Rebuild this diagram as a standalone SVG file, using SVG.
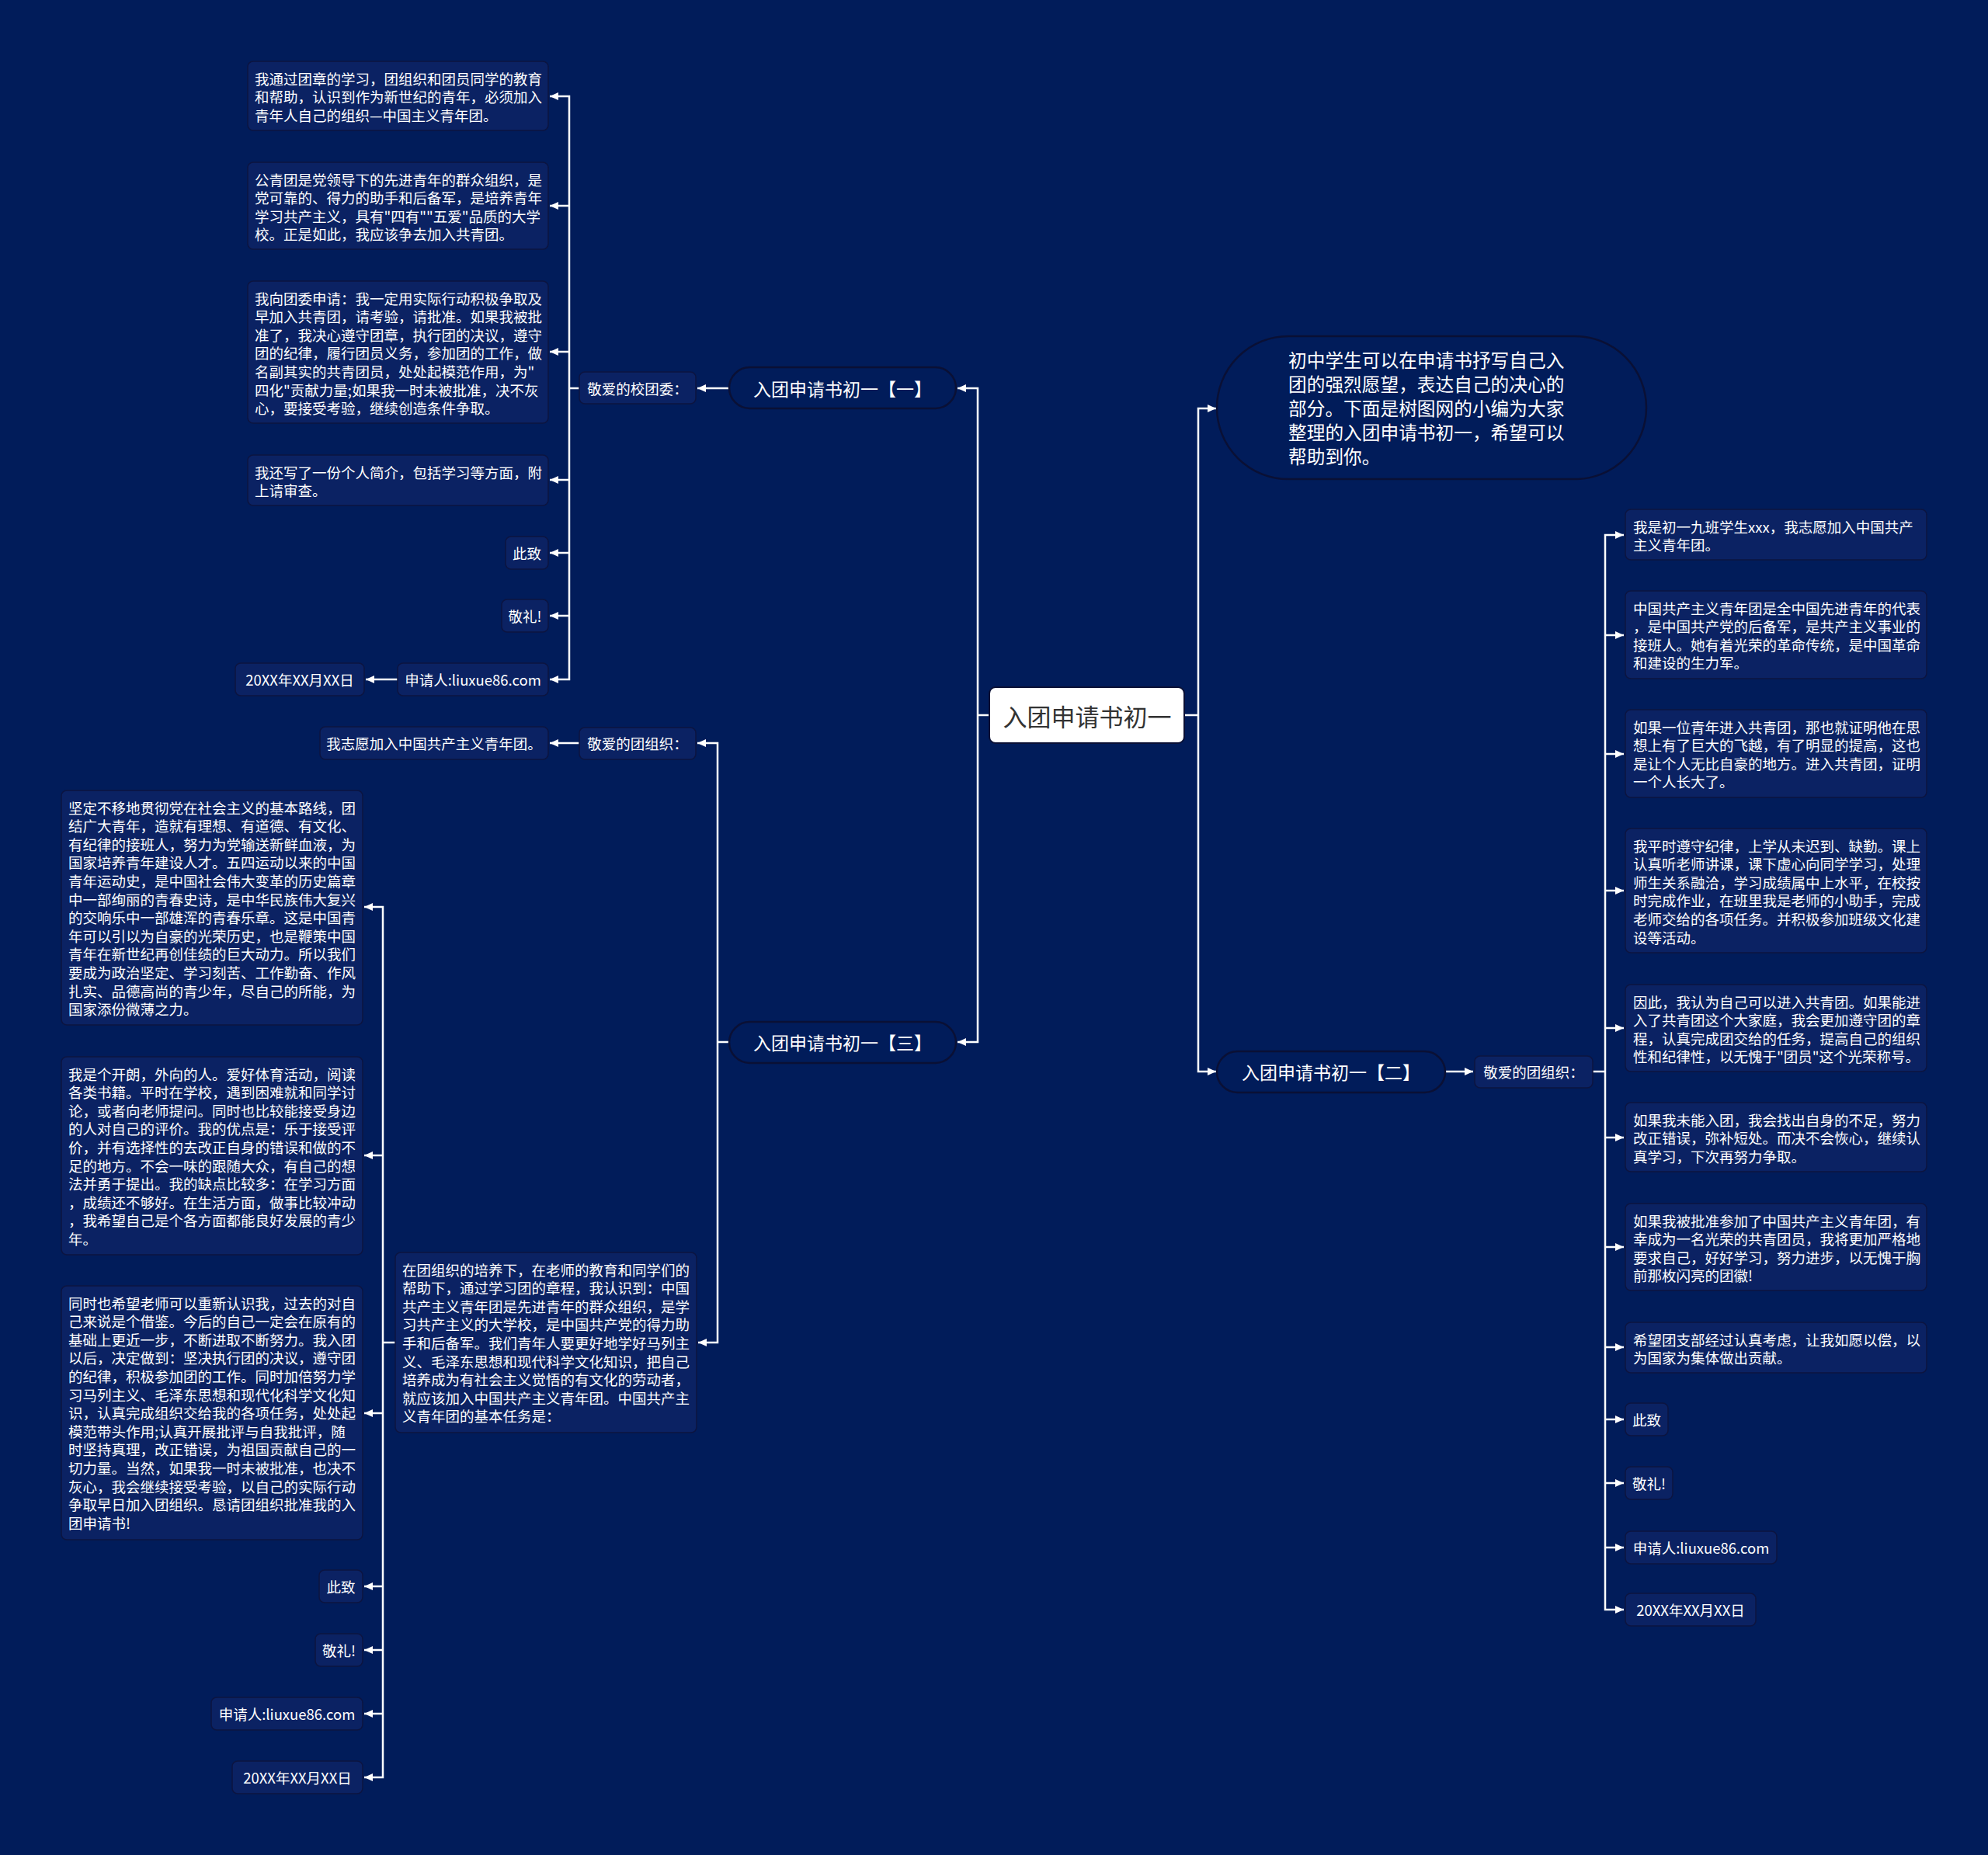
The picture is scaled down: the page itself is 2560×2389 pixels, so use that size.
<svg xmlns="http://www.w3.org/2000/svg" width="2560" height="2389" viewBox="0 0 2560 2389">
<style>
.bg{fill:#011c5a}
.box{fill:#0b2263;stroke:#0c1440;stroke-width:1.5}
.pill{fill:#011c5a;stroke:#0a1035;stroke-width:2.5}
.root{fill:#ffffff;stroke:#0a1035;stroke-width:2}
.t{font-family:"Noto Sans CJK SC","Microsoft YaHei",sans-serif;font-size:18.5px;fill:#ffffff;dominant-baseline:central}
.c{text-anchor:middle}
.tp{font-family:"Noto Sans CJK SC",sans-serif;font-size:23px;fill:#ffffff;dominant-baseline:central;text-anchor:middle}
.ti{font-family:"Noto Sans CJK SC",sans-serif;font-size:23.7px;fill:#ffffff;dominant-baseline:central}
.tr{font-family:"Noto Sans CJK SC",sans-serif;font-size:31px;fill:#333333;dominant-baseline:central;text-anchor:middle}
.ln{fill:none;stroke:#ffffff;stroke-width:2.5;marker-end:url(#ah)}
.lnn{fill:none;stroke:#ffffff;stroke-width:2.5}
</style>
<defs>
<marker id="ah" markerUnits="userSpaceOnUse" markerWidth="12" markerHeight="10" refX="11" refY="5" orient="auto">
<path d="M0,0 L11,5 L0,10 z" fill="#ffffff"/>
</marker>
</defs>
<rect class="bg" x="0" y="0" width="2560" height="2389"/>

<g id="connectors">
<path class="lnn" d="M1525 921 H1543"/>
<path class="ln" d="M1543 921 V526 H1566"/>
<path class="ln" d="M1543 921 V1380 H1566"/>
<path class="lnn" d="M1273 921 H1259"/>
<path class="ln" d="M1259 921 V500 H1233"/>
<path class="ln" d="M1259 921 V1342 H1233"/>
<path class="ln" d="M939 500 H898"/>
<path class="lnn" d="M746 500 H733"/>
<path class="ln" d="M733 500 V124 H708"/>
<path class="ln" d="M733 265 H708"/>
<path class="ln" d="M733 453 H708"/>
<path class="ln" d="M733 500 V875 H708"/>
<path class="ln" d="M733 618 H708"/>
<path class="ln" d="M733 712 H708"/>
<path class="ln" d="M733 793 H708"/>
<path class="ln" d="M512 875 H471"/>
<path class="lnn" d="M939 1342 H924"/>
<path class="ln" d="M924 1342 V957 H898"/>
<path class="ln" d="M924 1342 V1729 H899"/>
<path class="ln" d="M746 957 H708"/>
<path class="lnn" d="M509 1729 H493"/>
<path class="ln" d="M493 1729 V1168 H469"/>
<path class="ln" d="M493 1488 H469"/>
<path class="ln" d="M493 1729 V2289 H469"/>
<path class="ln" d="M493 1820 H469"/>
<path class="ln" d="M493 2043 H469"/>
<path class="ln" d="M493 2125 H469"/>
<path class="ln" d="M493 2207 H469"/>
<path class="ln" d="M1861 1380 H1897"/>
<path class="lnn" d="M2051 1380 H2067"/>
<path class="ln" d="M2067 1380 V689 H2091"/>
<path class="ln" d="M2067 818 H2091"/>
<path class="ln" d="M2067 971 H2091"/>
<path class="ln" d="M2067 1147 H2091"/>
<path class="ln" d="M2067 1324 H2091"/>
<path class="ln" d="M2067 1380 V2073 H2091"/>
<path class="ln" d="M2067 1465 H2091"/>
<path class="ln" d="M2067 1606 H2091"/>
<path class="ln" d="M2067 1735 H2091"/>
<path class="ln" d="M2067 1828 H2091"/>
<path class="ln" d="M2067 1910 H2091"/>
<path class="ln" d="M2067 1993 H2091"/>
</g>

<g id="root">
<rect class="root" x="1274" y="885" width="251" height="72" rx="8"/>
<text class="tr" x="1400" y="921">入团申请书初一</text>
</g>

<g id="intro">
<rect class="pill" x="1567" y="433" width="553" height="184" rx="92"/>
<text class="ti"><tspan x="1659" y="463">初中学生可以在申请书抒写自己入</tspan><tspan x="1659" y="494">团的强烈愿望，表达自己的决心的</tspan><tspan x="1659" y="525">部分。下面是树图网的小编为大家</tspan><tspan x="1659" y="556">整理的入团申请书初一，希望可以</tspan><tspan x="1659" y="587">帮助到你。</tspan></text>
</g>

<g id="part1">
<rect class="pill" x="939" y="473" width="292" height="53" rx="26.5"/>
<text class="tp" x="1085" y="500">入团申请书初一【一】</text>
</g>
<g id="part1-label">
<rect class="box" x="746" y="479" width="150" height="41" rx="7"/>
<text class="t c" x="821" y="500">敬爱的校团委：</text>
</g>
<g id="p1-a">
<rect class="box" x="319" y="79" width="387" height="89" rx="7"/>
<text class="t"><tspan x="328" y="100.5">我通过团章的学习，团组织和团员同学的教育</tspan><tspan x="328" y="124.1">和帮助，认识到作为新世纪的青年，必须加入</tspan><tspan x="328" y="147.7">青年人自己的组织—中国主义青年团。</tspan></text>
</g>
<g id="p1-b">
<rect class="box" x="319" y="209" width="387" height="112" rx="7"/>
<text class="t"><tspan x="328" y="230.5">公青团是党领导下的先进青年的群众组织，是</tspan><tspan x="328" y="254.1">党可靠的、得力的助手和后备军，是培养青年</tspan><tspan x="328" y="277.7">学习共产主义，具有"四有""五爱"品质的大学</tspan><tspan x="328" y="301.3">校。正是如此，我应该争去加入共青团。</tspan></text>
</g>
<g id="p1-c">
<rect class="box" x="319" y="362" width="387" height="183" rx="7"/>
<text class="t"><tspan x="328" y="383.5">我向团委申请：我一定用实际行动积极争取及</tspan><tspan x="328" y="407.1">早加入共青团，请考验，请批准。如果我被批</tspan><tspan x="328" y="430.7">准了，我决心遵守团章，执行团的决议，遵守</tspan><tspan x="328" y="454.3">团的纪律，履行团员义务，参加团的工作，做</tspan><tspan x="328" y="477.9">名副其实的共青团员，处处起模范作用，为"</tspan><tspan x="328" y="501.5">四化"贡献力量;如果我一时未被批准，决不灰</tspan><tspan x="328" y="525.1">心，要接受考验，继续创造条件争取。</tspan></text>
</g>
<g id="p1-d">
<rect class="box" x="319" y="586" width="387" height="65" rx="7"/>
<text class="t"><tspan x="328" y="607.5">我还写了一份个人简介，包括学习等方面，附</tspan><tspan x="328" y="631.1">上请审查。</tspan></text>
</g>
<g id="p1-e">
<rect class="box" x="651" y="691" width="55" height="42" rx="7"/>
<text class="t c" x="678.5" y="712">此致</text>
</g>
<g id="p1-f">
<rect class="box" x="646" y="772" width="60" height="42" rx="7"/>
<text class="t c" x="676" y="793">敬礼!</text>
</g>
<g id="p1-g">
<rect class="box" x="512" y="854" width="194" height="42" rx="7"/>
<text class="t c" x="609" y="875">申请人:liuxue86.com</text>
</g>
<g id="p1-h">
<rect class="box" x="303" y="854" width="166" height="42" rx="7"/>
<text class="t c" x="386" y="875">20XX年XX月XX日</text>
</g>

<g id="part3">
<rect class="pill" x="939" y="1316" width="292" height="53" rx="26.5"/>
<text class="tp" x="1085" y="1342">入团申请书初一【三】</text>
</g>
<g id="part3-label">
<rect class="box" x="746" y="937" width="150" height="41" rx="7"/>
<text class="t c" x="821" y="957">敬爱的团组织：</text>
</g>
<g id="p3-a">
<rect class="box" x="412" y="936" width="294" height="42" rx="7"/>
<text class="t c" x="559" y="957">我志愿加入中国共产主义青年团。</text>
</g>
<g id="p3-b">
<rect class="box" x="509" y="1613" width="388" height="232" rx="7"/>
<text class="t"><tspan x="518" y="1634.5">在团组织的培养下，在老师的教育和同学们的</tspan><tspan x="518" y="1658.1">帮助下，通过学习团的章程，我认识到：中国</tspan><tspan x="518" y="1681.7">共产主义青年团是先进青年的群众组织，是学</tspan><tspan x="518" y="1705.3">习共产主义的大学校，是中国共产党的得力助</tspan><tspan x="518" y="1728.9">手和后备军。我们青年人要更好地学好马列主</tspan><tspan x="518" y="1752.5">义、毛泽东思想和现代科学文化知识，把自己</tspan><tspan x="518" y="1776.1">培养成为有社会主义觉悟的有文化的劳动者，</tspan><tspan x="518" y="1799.7">就应该加入中国共产主义青年团。中国共产主</tspan><tspan x="518" y="1823.3">义青年团的基本任务是：</tspan></text>
</g>
<g id="p3-c">
<rect class="box" x="79" y="1018" width="388" height="302" rx="7"/>
<text class="t"><tspan x="88" y="1039.5">坚定不移地贯彻党在社会主义的基本路线，团</tspan><tspan x="88" y="1063.1">结广大青年，造就有理想、有道德、有文化、</tspan><tspan x="88" y="1086.7">有纪律的接班人，努力为党输送新鲜血液，为</tspan><tspan x="88" y="1110.3">国家培养青年建设人才。五四运动以来的中国</tspan><tspan x="88" y="1133.9">青年运动史，是中国社会伟大变革的历史篇章</tspan><tspan x="88" y="1157.5">中一部绚丽的青春史诗，是中华民族伟大复兴</tspan><tspan x="88" y="1181.1">的交响乐中一部雄浑的青春乐章。这是中国青</tspan><tspan x="88" y="1204.7">年可以引以为自豪的光荣历史，也是鞭策中国</tspan><tspan x="88" y="1228.3">青年在新世纪再创佳绩的巨大动力。所以我们</tspan><tspan x="88" y="1251.9">要成为政治坚定、学习刻苦、工作勤奋、作风</tspan><tspan x="88" y="1275.5">扎实、品德高尚的青少年，尽自己的所能，为</tspan><tspan x="88" y="1299.1">国家添份微薄之力。</tspan></text>
</g>
<g id="p3-d">
<rect class="box" x="79" y="1361" width="388" height="255" rx="7"/>
<text class="t"><tspan x="88" y="1382.5">我是个开朗，外向的人。爱好体育活动，阅读</tspan><tspan x="88" y="1406.1">各类书籍。平时在学校，遇到困难就和同学讨</tspan><tspan x="88" y="1429.7">论，或者向老师提问。同时也比较能接受身边</tspan><tspan x="88" y="1453.3">的人对自己的评价。我的优点是：乐于接受评</tspan><tspan x="88" y="1476.9">价，并有选择性的去改正自身的错误和做的不</tspan><tspan x="88" y="1500.5">足的地方。不会一味的跟随大众，有自己的想</tspan><tspan x="88" y="1524.1">法并勇于提出。我的缺点比较多：在学习方面</tspan><tspan x="88" y="1547.7">，成绩还不够好。在生活方面，做事比较冲动</tspan><tspan x="88" y="1571.3">，我希望自己是个各方面都能良好发展的青少</tspan><tspan x="88" y="1594.9">年。</tspan></text>
</g>
<g id="p3-e">
<rect class="box" x="79" y="1656" width="388" height="327" rx="7"/>
<text class="t"><tspan x="88" y="1677.5">同时也希望老师可以重新认识我，过去的对自</tspan><tspan x="88" y="1701.1">己来说是个借鉴。今后的自己一定会在原有的</tspan><tspan x="88" y="1724.7">基础上更近一步，不断进取不断努力。我入团</tspan><tspan x="88" y="1748.3">以后，决定做到：坚决执行团的决议，遵守团</tspan><tspan x="88" y="1771.9">的纪律，积极参加团的工作。同时加倍努力学</tspan><tspan x="88" y="1795.5">习马列主义、毛泽东思想和现代化科学文化知</tspan><tspan x="88" y="1819.1">识，认真完成组织交给我的各项任务，处处起</tspan><tspan x="88" y="1842.7">模范带头作用;认真开展批评与自我批评，随</tspan><tspan x="88" y="1866.3">时坚持真理，改正错误，为祖国贡献自己的一</tspan><tspan x="88" y="1889.9">切力量。当然，如果我一时未被批准，也决不</tspan><tspan x="88" y="1913.5">灰心，我会继续接受考验，以自己的实际行动</tspan><tspan x="88" y="1937.1">争取早日加入团组织。恳请团组织批准我的入</tspan><tspan x="88" y="1960.7">团申请书!</tspan></text>
</g>
<g id="p3-f">
<rect class="box" x="411" y="2022" width="56" height="42" rx="7"/>
<text class="t c" x="439" y="2043">此致</text>
</g>
<g id="p3-g">
<rect class="box" x="406" y="2104" width="61" height="42" rx="7"/>
<text class="t c" x="436.5" y="2125">敬礼!</text>
</g>
<g id="p3-h">
<rect class="box" x="272" y="2186" width="195" height="42" rx="7"/>
<text class="t c" x="369.5" y="2207">申请人:liuxue86.com</text>
</g>
<g id="p3-i">
<rect class="box" x="299" y="2268" width="168" height="42" rx="7"/>
<text class="t c" x="383" y="2289">20XX年XX月XX日</text>
</g>

<g id="part2">
<rect class="pill" x="1567" y="1354" width="294" height="53" rx="26.5"/>
<text class="tp" x="1714" y="1380">入团申请书初一【二】</text>
</g>
<g id="part2-label">
<rect class="box" x="1899" y="1360" width="152" height="41" rx="7"/>
<text class="t c" x="1975" y="1380">敬爱的团组织：</text>
</g>
<g id="p2-a">
<rect class="box" x="2093" y="656" width="388" height="65" rx="7"/>
<text class="t"><tspan x="2103" y="677.5">我是初一九班学生xxx，我志愿加入中国共产</tspan><tspan x="2103" y="701.1">主义青年团。</tspan></text>
</g>
<g id="p2-b">
<rect class="box" x="2093" y="761" width="388" height="113" rx="7"/>
<text class="t"><tspan x="2103" y="782.5">中国共产主义青年团是全中国先进青年的代表</tspan><tspan x="2103" y="806.1">，是中国共产党的后备军，是共产主义事业的</tspan><tspan x="2103" y="829.7">接班人。她有着光荣的革命传统，是中国革命</tspan><tspan x="2103" y="853.3">和建设的生力军。</tspan></text>
</g>
<g id="p2-c">
<rect class="box" x="2093" y="914" width="388" height="113" rx="7"/>
<text class="t"><tspan x="2103" y="935.5">如果一位青年进入共青团，那也就证明他在思</tspan><tspan x="2103" y="959.1">想上有了巨大的飞越，有了明显的提高，这也</tspan><tspan x="2103" y="982.7">是让个人无比自豪的地方。进入共青团，证明</tspan><tspan x="2103" y="1006.3">一个人长大了。</tspan></text>
</g>
<g id="p2-d">
<rect class="box" x="2093" y="1067" width="388" height="160" rx="7"/>
<text class="t"><tspan x="2103" y="1088.5">我平时遵守纪律，上学从未迟到、缺勤。课上</tspan><tspan x="2103" y="1112.1">认真听老师讲课，课下虚心向同学学习，处理</tspan><tspan x="2103" y="1135.7">师生关系融洽，学习成绩属中上水平，在校按</tspan><tspan x="2103" y="1159.3">时完成作业，在班里我是老师的小助手，完成</tspan><tspan x="2103" y="1182.9">老师交给的各项任务。并积极参加班级文化建</tspan><tspan x="2103" y="1206.5">设等活动。</tspan></text>
</g>
<g id="p2-e">
<rect class="box" x="2093" y="1268" width="388" height="112" rx="7"/>
<text class="t"><tspan x="2103" y="1289.5">因此，我认为自己可以进入共青团。如果能进</tspan><tspan x="2103" y="1313.1">入了共青团这个大家庭，我会更加遵守团的章</tspan><tspan x="2103" y="1336.7">程，认真完成团交给的任务，提高自己的组织</tspan><tspan x="2103" y="1360.3">性和纪律性，以无愧于"团员"这个光荣称号。</tspan></text>
</g>
<g id="p2-f">
<rect class="box" x="2093" y="1420" width="388" height="89" rx="7"/>
<text class="t"><tspan x="2103" y="1441.5">如果我未能入团，我会找出自身的不足，努力</tspan><tspan x="2103" y="1465.1">改正错误，弥补短处。而决不会恢心，继续认</tspan><tspan x="2103" y="1488.7">真学习，下次再努力争取。</tspan></text>
</g>
<g id="p2-g">
<rect class="box" x="2093" y="1550" width="388" height="112" rx="7"/>
<text class="t"><tspan x="2103" y="1571.5">如果我被批准参加了中国共产主义青年团，有</tspan><tspan x="2103" y="1595.1">幸成为一名光荣的共青团员，我将更加严格地</tspan><tspan x="2103" y="1618.7">要求自己，好好学习，努力进步，以无愧于胸</tspan><tspan x="2103" y="1642.3">前那枚闪亮的团徽!</tspan></text>
</g>
<g id="p2-h">
<rect class="box" x="2093" y="1703" width="388" height="65" rx="7"/>
<text class="t"><tspan x="2103" y="1724.5">希望团支部经过认真考虑，让我如愿以偿，以</tspan><tspan x="2103" y="1748.1">为国家为集体做出贡献。</tspan></text>
</g>
<g id="p2-i">
<rect class="box" x="2093" y="1807" width="55" height="42" rx="7"/>
<text class="t c" x="2120.5" y="1828">此致</text>
</g>
<g id="p2-j">
<rect class="box" x="2093" y="1889" width="61" height="42" rx="7"/>
<text class="t c" x="2123.5" y="1910">敬礼!</text>
</g>
<g id="p2-k">
<rect class="box" x="2093" y="1972" width="195" height="42" rx="7"/>
<text class="t c" x="2190.5" y="1993">申请人:liuxue86.com</text>
</g>
<g id="p2-l">
<rect class="box" x="2093" y="2052" width="168" height="42" rx="7"/>
<text class="t c" x="2177" y="2073">20XX年XX月XX日</text>
</g>
</svg>
